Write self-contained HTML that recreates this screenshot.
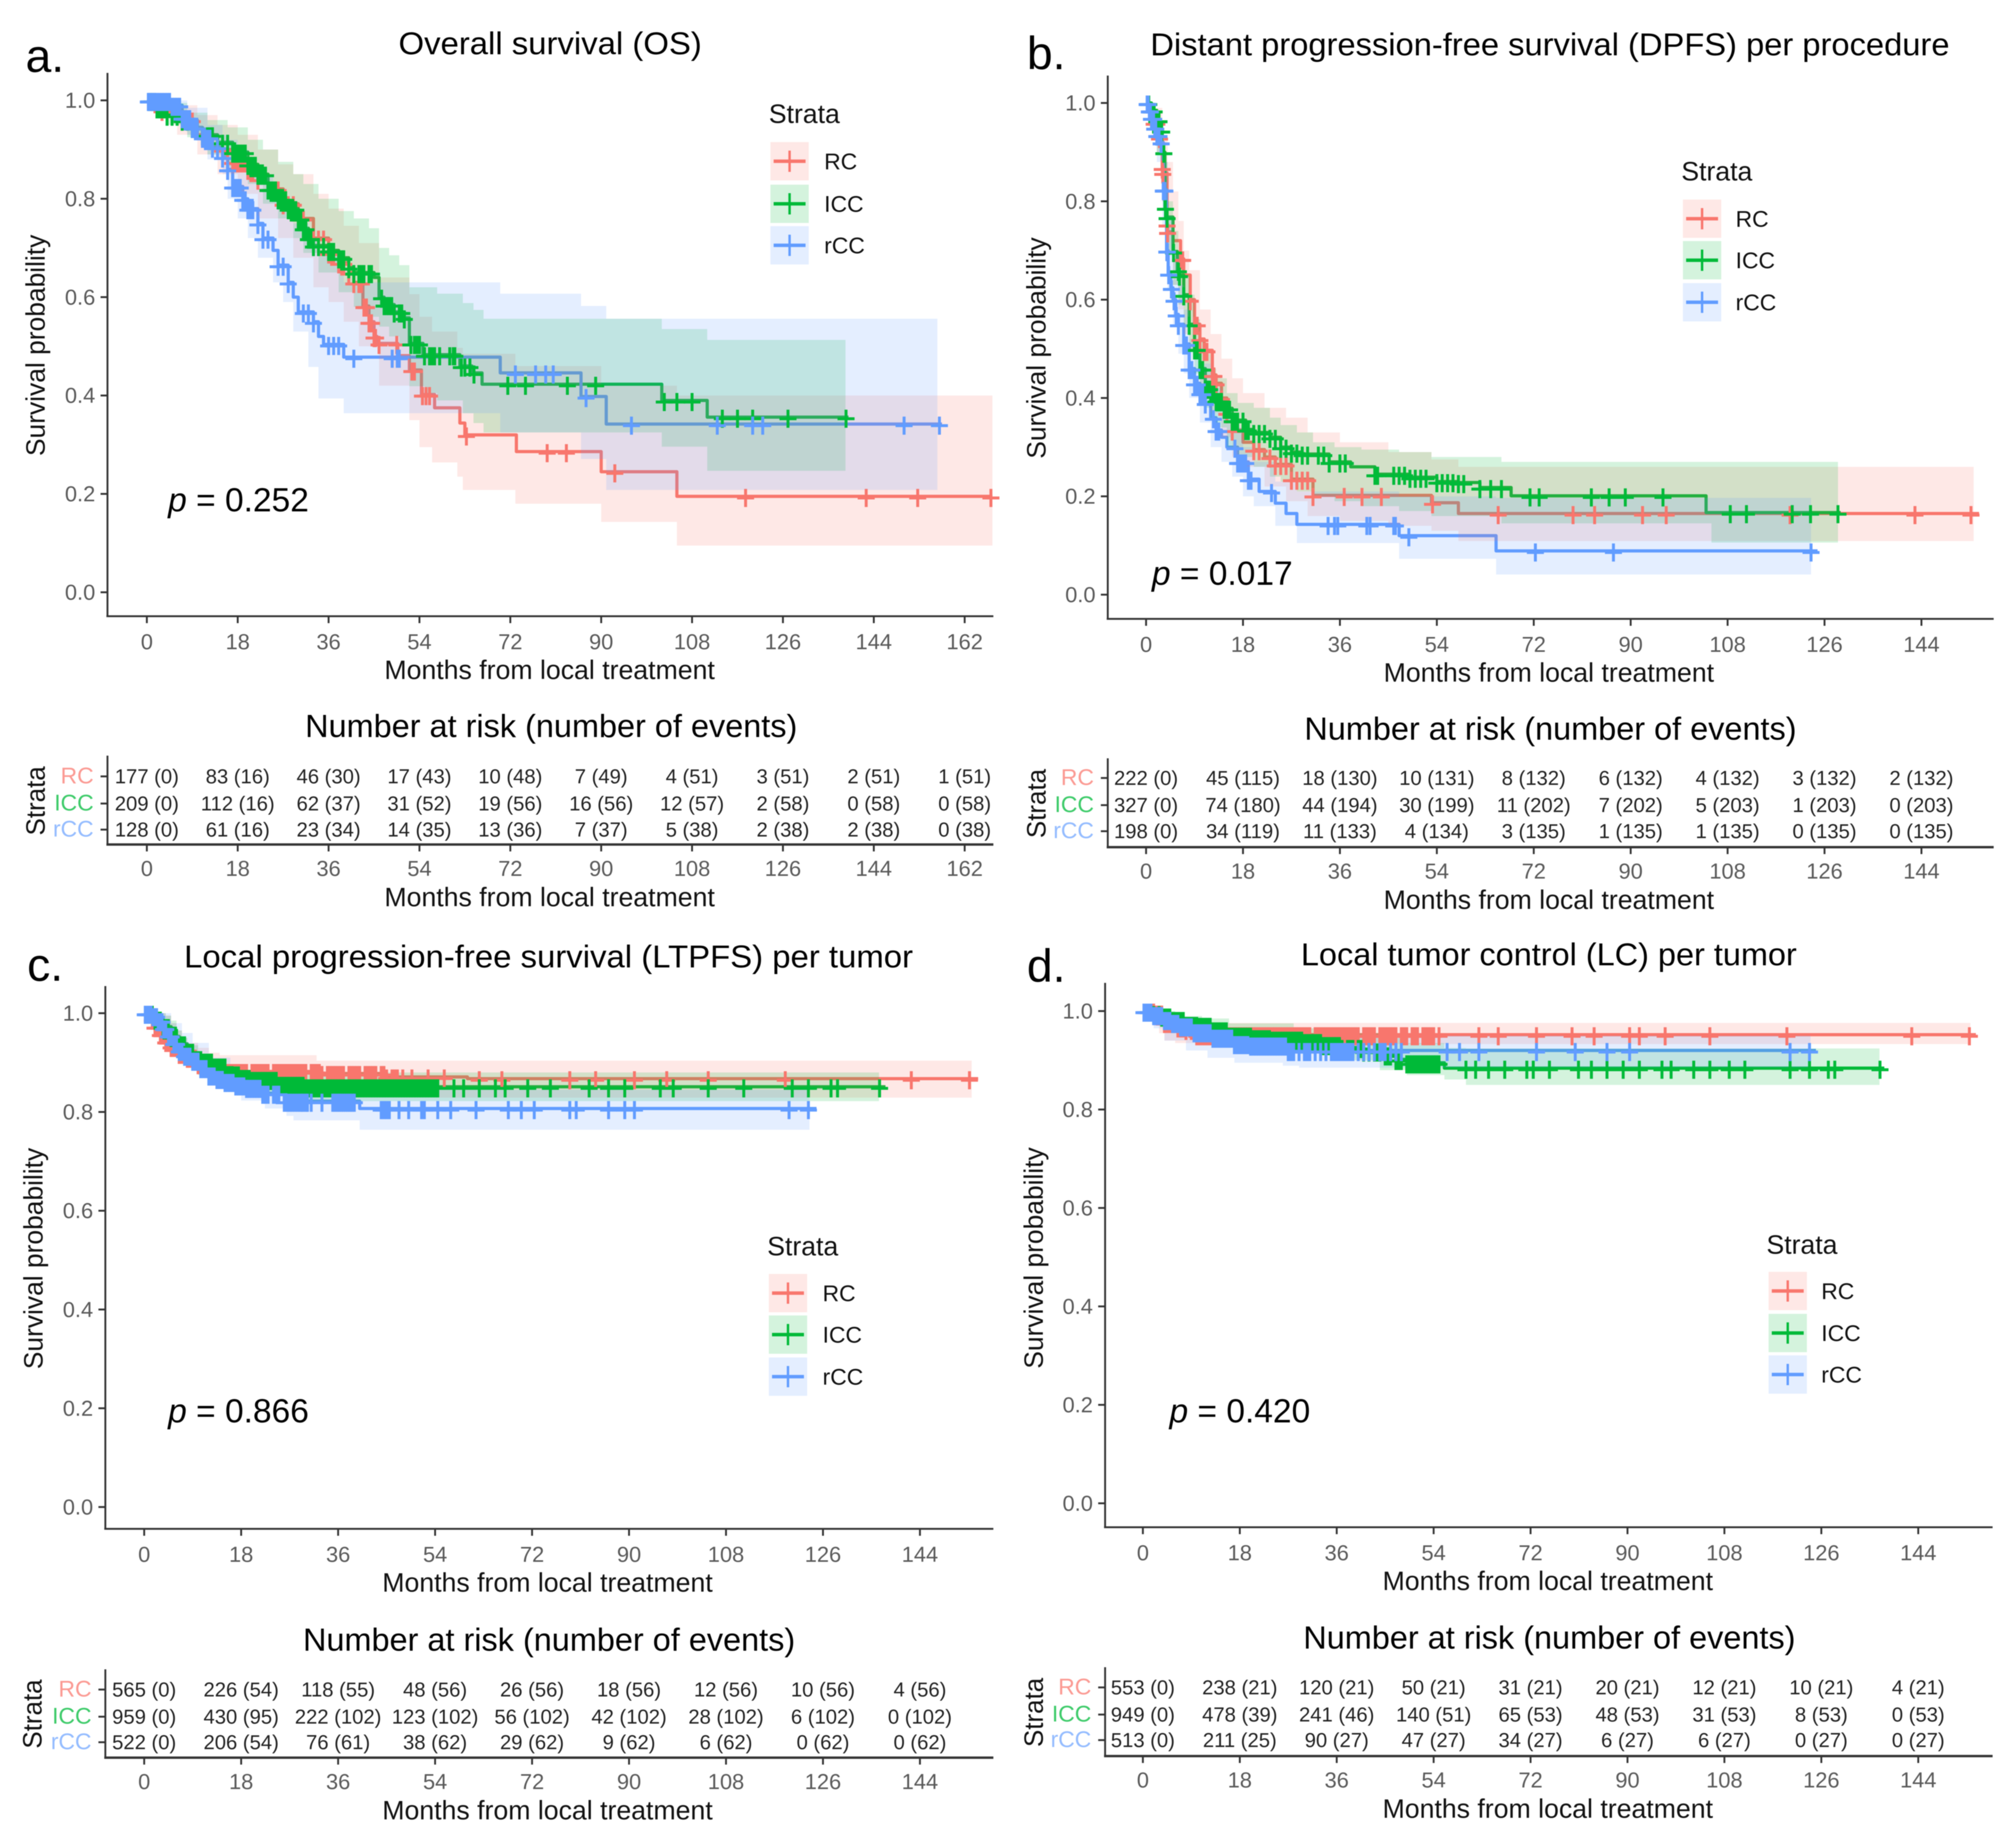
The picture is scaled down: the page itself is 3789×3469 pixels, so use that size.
<!DOCTYPE html>
<html lang="en">
<head>
<meta charset="utf-8">
<title>Survival curves by strata</title>
<style>
html,body{margin:0;padding:0;background:#fff;}
svg{display:block;filter:blur(0.9px);}
text{font-family:"Liberation Sans",sans-serif;}
</style>
</head>
<body>
<svg id="figure" xmlns="http://www.w3.org/2000/svg" width="3789" height="3469" viewBox="0 0 3789 3469">
<rect x="0" y="0" width="3789" height="3469" fill="#ffffff"></rect>
</svg>
<script>
// ---------- Panel a: Overall survival ----------
var a_RC_t=[0,3,6,10,14,17,20,22,24,27,30,33,36,38,40,41,42.8,44,45,45.6,49.7,52,54.4,57,62,63,73.2,90,105,167.5];
var a_RC_s=[1,.98,.96,.93,.9,.875,.86,.84,.82,.79,.76,.72,.69,.67,.65,.63,.582,.55,.52,.506,.481,.452,.402,.375,.344,.32,.286,.245,.195,.195];
var a_RC_c=[1,3,5,7,9,11,13,15,16,17,17.5,18,18.5,19,19.5,20,20.5,21,22,24,25,26,27,28,29,30,31,33,34,35,36,36.5,37,38,38.5,39,40,41,42,42.5,43,43.5,44,44.5,45,45.3,46,49.5,52.5,53,54.6,55.3,56,63.3,79.3,83.1,92.7,118.6,142.5,152.7,167.2];
var a_RC_bt=[0,6,10,14,18,22,26,29,33,36,39,42,46,52,54,56.5,61.5,62.6,73,90,105,167.5];
var a_RC_u=[1,.99,.97,.95,.93,.9,.87,.85,.81,.78,.745,.71,.64,.606,.56,.53,.497,.485,.46,.42,.4,.4];
var a_RC_l=[1,.93,.89,.85,.81,.76,.72,.68,.62,.59,.55,.5,.42,.35,.295,.264,.235,.208,.18,.143,.095,.095];

var a_ICC_t=[0,2,4,7,9,11,14,17,20,22,24,26,28,30,31,32,33,36,38,40,41,45,46,47,49,51,52,54.7,62,64.4,66.4,102,111,139];
var a_ICC_s=[1,.985,.97,.96,.945,.93,.915,.895,.87,.85,.82,.8,.78,.76,.74,.72,.705,.695,.68,.66,.65,.64,.6,.585,.57,.558,.506,.483,.46,.446,.423,.39,.356,.356];
var a_ICC_c=[.5,1,1.5,2,2.5,3,3.5,4,5,6,7,8,9,10,11,12,12.5,13,14,15,16,17,17.5,18,18.5,19,19.5,20,20.5,21,21.5,22,22.5,23,23.5,24,24.5,25,25.5,26,26.5,27,27.5,28,28.5,29,29.5,30,30.5,31,31.5,32,32.5,33,34,35,36,36.5,37,38,38.5,39,40,41,42,42.5,43,44,44.5,46.5,47,47.5,48,48.5,49,50,50.5,51,52.3,53,53.5,54,55,56,56.5,57,58,60,60.7,61,62.3,63,64,64.8,71.5,75,83.3,88.9,102.5,105,108,114,117,120,127,138.5];
var a_ICC_bt=[0,4,8,12,16,20,23,26,29,31,34,38,41,44,46,48,50,52,55,57.5,62.6,64.7,66.7,102,111,138.4];
var a_ICC_u=[1,.995,.975,.96,.945,.92,.9,.875,.85,.83,.8,.775,.76,.74,.7,.685,.665,.62,.62,.607,.588,.574,.556,.535,.513,.513];
var a_ICC_l=[1,.95,.925,.89,.865,.83,.79,.76,.72,.69,.65,.61,.58,.56,.54,.52,.5,.419,.405,.39,.364,.344,.325,.296,.247,.247];

var a_rCC_t=[0,5,7,9,11,13,15,16,17,19,20,22,23,25,26,28,29,30,33,34,35,39,70,86,91,157.5];
var a_rCC_s=[1,.99,.965,.945,.925,.905,.885,.86,.825,.8,.78,.75,.72,.695,.665,.63,.6,.57,.55,.52,.504,.478,.446,.398,.342,.342];
var a_rCC_c=[.3,.6,1,1.3,1.6,2,2.5,3,3.5,4,4.5,5,5.5,6,6.5,7,7.5,8,8.5,9,9.5,10,11,11.5,12,12.5,13,14,15,16,17,17.5,18,18.5,19,19.5,20,20.5,21,22,23,24,26,27,28,31,32,33,36,37,38,41,48.6,49.6,50,73,77,79,80.5,87,96,113,120,122,150,157];
var a_rCC_bt=[0,5,8,12,15,16,18,20,22,25,27,29,32,34,39,70,86,91,156.6];
var a_rCC_u=[1,1,.985,.95,.93,.92,.9,.87,.845,.81,.78,.75,.72,.69,.63,.607,.582,.556,.556];
var a_rCC_l=[1,.975,.93,.88,.85,.8,.76,.72,.68,.63,.59,.53,.458,.394,.364,.325,.271,.208,.208];

// ---------- Panel b: Distant progression-free survival ----------
var b_RC_t=[0,.8,1.5,2.4,3,3.1,3.9,4,5,6.4,7,8.2,9,10,10.8,12.3,13,14,15,16,18,20,22,24,27,31,53,58,154.7];
var b_RC_s=[1,.985,.96,.93,.868,.858,.753,.738,.72,.683,.65,.6,.55,.52,.497,.447,.43,.4,.37,.335,.31,.295,.28,.265,.235,.202,.187,.165,.165];
var b_RC_c=[1,1.5,2,2.5,3,3.1,3.9,4,6.4,6.6,6.8,8.2,9,9.5,10,10.8,11,11.3,12.3,12.6,13,14,15,16,20,21,23,24,25,26,27,28,29,30,31,36.8,40.1,43.7,53.2,65.4,79.3,83.3,92.2,96.6,119.6,142.8,153.2];
var b_RC_bt=[0,2,3,4,5,6,7,8,10,12,14,16,18,22,26,30,36,45,53,58,153.7];
var b_RC_u=[1,.99,.93,.88,.82,.76,.7,.66,.58,.53,.48,.44,.41,.38,.36,.33,.31,.29,.275,.26,.26];
var b_RC_l=[1,.9,.8,.7,.63,.58,.53,.5,.41,.37,.32,.28,.26,.22,.19,.16,.15,.14,.13,.109,.109];

var b_ICC_t=[0,1,2,2.7,3,3.5,3.8,5,5.8,6.2,7,8,9,10,11,12,13,14.5,16,18.5,20,23,25,27,29,34,38,42.5,49,54,58,62,67.8,104,129];
var b_ICC_s=[1,.985,.965,.944,.9,.787,.768,.698,.66,.65,.61,.55,.5,.46,.42,.41,.395,.379,.355,.336,.33,.32,.3,.29,.286,.27,.26,.245,.239,.23,.228,.218,.201,.167,.167];
var b_ICC_c=[.5,1,1.5,2,2.4,2.7,2.8,2.9,3.3,3.6,3.9,5.1,6,6.2,7,8,9,9.5,10,10.5,11,11.2,11.4,11.6,11.8,12,12.3,12.6,13,13.3,13.6,14,14.5,15,15.5,16,16.5,17,18,18.5,19,20,21,22,23,24,25,26,27,28,29,30,32,33,34,36,37,42.5,43,46,47,48,49,50,51,52,54,55,56,57,58,59,62,64,66,71.3,73,82.7,86,89,96,108.5,111.5,120,123.4,128.5];
var b_ICC_bt=[0,2,3,4,5,6,7,8,9,10,11,12,13,15,17,20,23,25,28,31,35,40,47,53,66,105,128.5];
var b_ICC_u=[1,.97,.88,.8,.74,.69,.65,.61,.56,.52,.49,.46,.44,.41,.39,.38,.36,.345,.33,.31,.3,.295,.29,.28,.27,.27,.27];
var b_ICC_l=[1,.9,.8,.69,.63,.59,.55,.5,.45,.41,.38,.36,.34,.3,.28,.26,.24,.23,.21,.2,.19,.18,.17,.16,.145,.106,.106];

var b_rCC_t=[0,.5,1,1.5,2,2.6,3.2,3.8,4.1,4.6,5,5.5,6,7,8,9,10,11,12,13,14,15,17,19,21,24,26,28,47,65,124.7];
var b_rCC_s=[1,.985,.97,.95,.935,.92,.824,.7,.653,.624,.6,.57,.55,.51,.46,.43,.41,.39,.36,.335,.32,.3,.27,.235,.21,.186,.165,.143,.12,.089,.089];
var b_rCC_c=[.2,.4,.6,.8,1,1.2,1.4,1.6,1.8,2,2.2,2.4,2.8,3.2,3.3,3.4,3.5,3.85,3.95,4.2,4.7,5.2,5.6,6,7,7.5,8,8.5,9,9.5,10,10.5,11,12.5,13,13.5,16.5,17,17.3,17.7,18,18.5,19,19.5,23.3,33.8,35,35.6,41,41.6,46,46.3,48.8,72.3,86.8,123.5];
var b_rCC_bt=[0,2,3,4,5,6,7,8,10,12,14,16,18,20,24,28,47,65,123.5];
var b_rCC_u=[1,.96,.88,.77,.69,.63,.58,.52,.47,.42,.38,.34,.3,.27,.23,.21,.2,.197,.197];
var b_rCC_l=[1,.88,.75,.62,.55,.49,.45,.4,.35,.3,.27,.24,.2,.18,.14,.105,.073,.041,.041];

// ---------- Panel c: Local progression-free survival ----------
var c_RC_t=[0,1.5,2,3,4,5,6.5,8,10,13,15,33,45,60,154.8];
var c_RC_s=[1,.988,.973,.958,.943,.933,.919,.911,.898,.888,.882,.878,.871,.8675,.8675];
var c_RC_c=[1,1.5,2,2.5,3,3.5,4,4.5,5,5.5,6,6.5,7,7.5,8,8.5,9,9.5,10,11,12,13,14,15,15.5,16,16.5,17,17.5,18,18.5,19,20,20.5,21,21.5,22,22.5,23,24,24.5,25,25.5,26,26.5,27,27.5,28,28.5,29,29.5,30,31,31.5,32,32.5,33,34,34.5,35,35.5,36,36.5,37,38,38.5,39,39.5,40,41,41.5,42,42.5,43,44,44.5,45,46,46.5,47,48,49.7,52.7,55.7,62.2,66.4,79,83.8,91,97,104.7,119,142.4,153.2];
var c_RC_bt=[0,3,4,5,6,7,8,10,12,14,32,38,153.6];
var c_RC_u=[1,1,.995,.98,.965,.95,.94,.93,.92,.915,.904,.904,.904];
var c_RC_l=[1,.99,.97,.945,.925,.905,.89,.88,.86,.85,.84,.829,.829];

var c_ICC_t=[0,2,3.5,5,6.5,8,9.5,11,13,15.5,18,20,25,30,137.6];
var c_ICC_s=[1,.988,.973,.953,.938,.923,.908,.903,.893,.877,.87,.866,.856,.851,.851];
var c_ICC_c=[1,1.5,2,2.5,3,3.5,4,4.5,5,5.5,6,6.5,7,7.5,8,8.5,9,9.5,10,10.5,11,11.5,12,12.5,13,13.5,14,14.5,15,15.5,16,16.5,17,17.5,18,18.5,19,19.5,20,20.5,21,21.5,22,22.5,23,23.5,24,24.5,25,25.5,26,26.5,27,27.5,28,28.5,29,29.5,30,30.5,31,31.5,32,32.5,33,33.5,34,34.5,35,35.5,36,36.5,37,37.5,38,38.5,39,39.5,40,40.5,41,41.5,42,42.5,43,43.5,44,44.5,45,45.5,46,46.5,47,47.5,48,48.5,49,49.5,50,50.5,51,51.5,52,52.5,53,53.5,54,54.5,57.5,59.3,62.2,65.2,67,71.2,75.4,82.6,86.2,89.2,95.8,98.2,104.7,111.3,120.3,123.3,127.5,128.7,136.5];
var c_ICC_bt=[0,3,4,5,6,7,8,10,12,15,18,22,27,136.4];
var c_ICC_u=[1,1,.995,.985,.965,.95,.935,.915,.905,.895,.885,.88,.88,.88];
var c_ICC_l=[1,.985,.975,.955,.935,.915,.895,.875,.87,.855,.845,.835,.822,.822];

var c_rCC_t=[0,1.5,2.5,3.5,4.5,5.5,6.5,7.5,9,10.5,12,13.5,15,17,19,22,26,40,124.8];
var c_rCC_s=[1,.995,.985,.97,.955,.94,.925,.915,.905,.89,.875,.868,.862,.855,.85,.838,.822,.807,.807];
var c_rCC_c=[.2,.5,1,1.3,1.6,2,2.3,2.6,3,3.3,3.6,4,4.5,5,5.5,6,6.5,7,7.5,8,8.5,9,9.5,10,10.5,11,11.5,12,12.5,13,13.5,14,14.5,15,15.5,16,16.5,17,17.5,18,18.5,19,19.5,20,20.5,21,21.5,22,22.5,23,24,24.5,25,26,26.5,27,27.5,28,28.5,29,29.3,29.6,30,30.3,31,33,35,35.4,35.8,36.2,36.6,37,37.4,37.8,38.2,38.6,39,44,44.5,45,45.5,47.3,49.1,51.5,52,54.5,56.9,61.6,67.6,70,72.4,79,80.2,86.2,89.2,91,119.7,123.3];
var c_rCC_bt=[0,3,5,7,9,12,16,18,22.4,26.4,27.7,40,123.5];
var c_rCC_u=[1,1,.98,.96,.94,.91,.89,.87,.86,.855,.85,.845,.845];
var c_rCC_l=[1,.97,.95,.925,.9,.87,.845,.823,.807,.792,.783,.764,.764];

// ---------- Panel d: Local tumor control ----------
var d_RC_t=[0,2.2,3.8,6.3,7.8,10,154.7];
var d_RC_s=[1,.996,.977,.968,.963,.952,.952];
var d_RC_c=[1,2,2.5,3,3.5,4,4.5,5,5.5,6,6.5,7,7.5,8,9,10,10.5,11,11.5,12,12.5,13,13.5,14,14.5,15,15.5,16,16.5,17,17.5,18,18.5,19,19.5,20,20.5,21,21.5,22,22.5,23,23.5,24,24.5,25,25.5,26,26.5,27,27.5,28,28.5,29,29.5,30,30.5,31,32,32.5,33,33.5,34,34.5,35,35.5,36,36.5,37,37.5,38,38.5,39,39.5,40,41,41.5,42,42.5,43,44,44.5,45,45.5,46,46.5,47,48,48.5,49,50,50.5,51,52,52.5,53,53.5,54,55,62.4,66,73.1,79.7,83.8,90.4,92.2,97,105.3,119.6,142.8,153.5];
var d_RC_bt=[0,2,3,4,6,11,153.7];
var d_RC_u=[1,1,.995,.985,.977,.976,.976];
var d_RC_l=[1,.97,.955,.94,.935,.933,.933];

var d_ICC_t=[0,2,3.5,5.2,7.8,10.4,13,15.7,20.3,23.6,30,33.4,37,41,44.5,47,49,56,137.7];
var d_ICC_s=[1,.995,.99,.983,.973,.971,.962,.951,.946,.943,.938,.932,.926,.919,.911,.902,.895,.884,.884];
var d_ICC_c=[1,2,3,3.5,4,4.5,5,5.5,6,6.5,7,7.5,8,8.5,9,9.5,10,10.5,11,11.5,12,12.5,13,13.5,14,14.5,15,15.5,16,16.5,17,17.5,18,18.5,19,19.5,20,20.5,21,21.5,22,22.5,23,23.5,24,24.5,25,25.5,26,26.5,27,27.5,28,28.5,29,29.5,30,30.5,31,31.5,32,32.5,33,33.5,34,34.5,35,35.5,36,36.5,37,38,38.5,39,40,40.5,41,42,43,43.5,44,45,45.5,46,47,47.5,48,49,49.5,50,50.5,51,51.5,52,52.5,53,53.5,54,54.5,55,60,61.8,64.2,67.2,71.3,72.5,75.5,80.9,83.3,86.2,89.2,92.2,96.4,98.1,102.3,105.3,108.9,111.8,120.2,123.8,127.3,128.5,136.9];
var d_ICC_bt=[0,3,6,11,16,28,37,44,49,56,60,136.8];
var d_ICC_u=[1,1,.99,.985,.975,.965,.955,.945,.935,.925,.924,.924];
var d_ICC_l=[1,.97,.96,.955,.94,.925,.9,.88,.87,.861,.85,.85];

var d_rCC_t=[0,2,3.8,5.4,7,9.5,13,17,20,27,125];
var d_rCC_s=[1,.993,.983,.977,.97,.958,.947,.934,.931,.92,.92];
var d_rCC_c=[.2,.5,1,1.5,2,2.5,3,3.5,4,4.5,5,5.5,6,6.5,7,7.5,8,8.5,9,9.5,10,10.5,11,11.5,12,12.5,13,13.5,14,14.5,15,15.5,16,16.5,17,17.5,18,18.5,19,19.5,20,20.5,21,21.5,22,22.5,23,23.5,24,24.5,25,25.5,26,26.5,27,27.5,28,29,30,30.5,31,32,33,34,35,35.5,36,36.5,37,37.5,38,38.5,39,40,41,42,43,44,44.5,45,46,47,48,56.5,58.8,62.4,73.1,80.3,86.2,90.4,120.2,123.8];
var d_rCC_bt=[0,2,4,8,12,17,26,29,124];
var d_rCC_u=[1,1,.985,.965,.955,.95,.95,.95,.95];
var d_rCC_l=[1,.965,.94,.92,.905,.895,.889,.885,.885];

// ---------- Risk table values ----------
var a_risk_RC=["177 (0)","83 (16)","46 (30)","17 (43)","10 (48)","7 (49)","4 (51)","3 (51)","2 (51)","1 (51)"];
var a_risk_ICC=["209 (0)","112 (16)","62 (37)","31 (52)","19 (56)","16 (56)","12 (57)","2 (58)","0 (58)","0 (58)"];
var a_risk_rCC=["128 (0)","61 (16)","23 (34)","14 (35)","13 (36)","7 (37)","5 (38)","2 (38)","2 (38)","0 (38)"];
var b_risk_RC=["222 (0)","45 (115)","18 (130)","10 (131)","8 (132)","6 (132)","4 (132)","3 (132)","2 (132)"];
var b_risk_ICC=["327 (0)","74 (180)","44 (194)","30 (199)","11 (202)","7 (202)","5 (203)","1 (203)","0 (203)"];
var b_risk_rCC=["198 (0)","34 (119)","11 (133)","4 (134)","3 (135)","1 (135)","1 (135)","0 (135)","0 (135)"];
var c_risk_RC=["565 (0)","226 (54)","118 (55)","48 (56)","26 (56)","18 (56)","12 (56)","10 (56)","4 (56)"];
var c_risk_ICC=["959 (0)","430 (95)","222 (102)","123 (102)","56 (102)","42 (102)","28 (102)","6 (102)","0 (102)"];
var c_risk_rCC=["522 (0)","206 (54)","76 (61)","38 (62)","29 (62)","9 (62)","6 (62)","0 (62)","0 (62)"];
var d_risk_RC=["553 (0)","238 (21)","120 (21)","50 (21)","31 (21)","20 (21)","12 (21)","10 (21)","4 (21)"];
var d_risk_ICC=["949 (0)","478 (39)","241 (46)","140 (51)","65 (53)","48 (53)","31 (53)","8 (53)","0 (53)"];
var d_risk_rCC=["513 (0)","211 (25)","90 (27)","47 (27)","34 (27)","6 (27)","6 (27)","0 (27)","0 (27)"];

var xTicks9=[0,18,36,54,72,90,108,126,144];
var xTicks10=[0,18,36,54,72,90,108,126,144,162];
var yTicks=[0,.2,.4,.6,.8,1];
var strataNames=["RC","ICC","rCC"];
var strataColors=["#F8766D","#00BA38","#619CFF"];
var riskLabelColors=["#fb9a93","#3ecb6a","#94bcff"];

var svg=document.getElementById('figure');
var NS='http://www.w3.org/2000/svg';

function mk(tag,attrs,parent,name,inter){
  var el=document.createElementNS(NS,tag);
  for(var k in attrs){el.setAttribute(k,attrs[k]);}
  
  
  parent.appendChild(el);
  return el;
}
function txt(parent,name,str,x,y,size,fill,anchor,width,extra){
  var at={x:x,y:y,'font-size':size,fill:fill,'text-anchor':anchor||'start'};
  if(width){at.textLength=width;at.lengthAdjust='spacingAndGlyphs';}
  if(extra){for(var k in extra){at[k]=extra[k];}}
  var t=mk('text',at,parent,name,false);
  t.textContent=str;
  return t;
}
function stepPts(t,v,X,Y){
  var p=[];
  for(var i=0;i<t.length;i++){
    if(i>0){p.push([X(t[i]),Y(v[i-1])]);}
    p.push([X(t[i]),Y(v[i])]);
  }
  return p;
}
function toPath(p){
  return p.map(function(q,i){return (i?'L':'M')+q[0].toFixed(1)+' '+q[1].toFixed(1);}).join(' ');
}
function stepAt(t,s,m){
  var r=s[0];
  for(var i=0;i<t.length;i++){if(t[i]<=m){r=s[i];}}
  return r;
}

function drawPanel(P){
  var g=mk('g',{},svg,'panel-'+P.id,false);
  var X=function(m){return P.x0+m*P.k;};
  var Y=function(s){return P.y0-s*(P.y0-P.y1);};

  // series lines first, bands over them, censors on top
  var lines=mk('g',{},g,'survival-curves',false);
  var bands=mk('g',{},g,'confidence-bands',false);
  var marks=mk('g',{},g,'censor-marks',false);
  P.series.forEach(function(S,i){
    var color=strataColors[i], nm=strataNames[i].toLowerCase();
    mk('path',{d:toPath(stepPts(S.t,S.s,X,Y)),fill:'none',stroke:color,'stroke-width':6,'stroke-linejoin':'round'},lines,'curve-'+nm,false);
  });
  P.series.forEach(function(S,i){
    var color=strataColors[i], nm=strataNames[i].toLowerCase();
    var up=stepPts(S.bt,S.u,X,Y), lo=stepPts(S.bt,S.l,X,Y).reverse();
    mk('path',{d:toPath(up.concat(lo))+' Z',fill:color,'fill-opacity':0.17,stroke:'none'},bands,'band-'+nm,false);
  });
  P.series.forEach(function(S,i){
    var color=strataColors[i], nm=strataNames[i].toLowerCase();
    S.c.forEach(function(m){
      var x=X(m), y=Y(stepAt(S.t,S.s,m))+3;
      mk('path',{d:'M'+(x-16).toFixed(1)+' '+y.toFixed(1)+' H'+(x+16).toFixed(1)+' M'+x.toFixed(1)+' '+(y-17).toFixed(1)+' V'+(y+17).toFixed(1),fill:'none',stroke:color,'stroke-width':5.5},marks,'censor-mark-'+nm,false);
    });
  });

  // main axes
  var axis=mk('g',{},g,'main-axes',false);
  mk('line',{x1:P.left,x2:P.left,y1:P.top,y2:P.bottom,stroke:'#333','stroke-width':3.5},axis,'y-axis-line',false);
  mk('line',{x1:P.left-2,x2:P.right,y1:P.bottom,y2:P.bottom,stroke:'#333','stroke-width':3.5},axis,'x-axis-line',false);
  yTicks.forEach(function(v){
    var y=Y(v);
    mk('line',{x1:P.left-13,x2:P.left,y1:y,y2:y,stroke:'#333','stroke-width':3.5},axis,'y-tick',false);
    txt(axis,'y-tick-label',v.toFixed(1),P.left-23,y+14,41,'#5a5a5a','end');
  });
  P.ticks.forEach(function(m){
    var x=X(m);
    mk('line',{x1:x,x2:x,y1:P.bottom,y2:P.bottom+13,stroke:'#333','stroke-width':3.5},axis,'x-tick',false);
    txt(axis,'x-tick-label',String(m),x,P.bottom+62,41,'#5a5a5a','middle');
  });
  txt(axis,'x-axis-title','Months from local treatment',P.xc-3,P.bottom+118,50,'#111','middle',621);
  txt(axis,'y-axis-title','Survival probability',0,0,50,'#111','middle',416,{transform:'translate('+P.yTitleX+' '+P.yTitleY+') rotate(-90)'});

  // titles, panel letter, p value
  txt(g,'chart-title',P.title,P.titleX,P.titleY,59,'#000','middle',P.titleW);
  txt(g,'panel-letter',P.id+'.',P.letterX,P.letterY,87,'#000','start');
  var pv=txt(g,'p-value','',P.pX,P.pY,63,'#000','start');
  var it=document.createElementNS(NS,'tspan');
  it.setAttribute('font-style','italic');
  
  
  it.textContent='p';
  pv.appendChild(it);
  var rest=document.createElementNS(NS,'tspan');
  
  
  rest.textContent=' = '+P.p;
  pv.appendChild(rest);

  // legend
  var leg=mk('g',{},g,'legend',false);
  txt(leg,'legend-title','Strata',P.legX,P.legY,50,'#111','start');
  P.legKeys.forEach(function(cy,i){
    var e=mk('g',{},leg,'legend-entry-'+strataNames[i].toLowerCase(),false);
    var cx=P.legCx;
    mk('rect',{x:cx-36,y:cy-36,width:72,height:72,fill:strataColors[i],'fill-opacity':0.17},e,'legend-band-swatch',false);
    mk('path',{d:'M'+(cx-30)+' '+cy+' H'+(cx+30),stroke:strataColors[i],'stroke-width':6.5,fill:'none'},e,'legend-line-swatch',false);
    mk('path',{d:'M'+cx+' '+(cy-20)+' V'+(cy+20),stroke:strataColors[i],'stroke-width':4.5,fill:'none'},e,'legend-censor-swatch',false);
    txt(e,'legend-label',strataNames[i],P.legTx,cy+15,43,'#111','start');
  });

  // risk table
  var T=P.table;
  var rg=mk('g',{},g,'risk-table',false);
  txt(rg,'risk-table-title','Number at risk (number of events)',P.xc,T.titleY,60,'#000','middle',925);
  mk('line',{x1:P.left,x2:P.left,y1:T.top,y2:T.bottom,stroke:'#333','stroke-width':3.5},rg,'risk-y-axis-line',false);
  mk('line',{x1:P.left-2,x2:P.right,y1:T.bottom,y2:T.bottom,stroke:'#333','stroke-width':4.5},rg,'risk-x-axis-line',false);
  T.rows.forEach(function(vals,i){
    var by=T.rowY[i];
    mk('line',{x1:P.left-13,x2:P.left,y1:by-13,y2:by-13,stroke:'#333','stroke-width':3.5},rg,'risk-y-tick',false);
    txt(rg,'risk-row-label',strataNames[i],P.left-26,by,43,riskLabelColors[i],'end');
    vals.forEach(function(v,j){
      txt(rg,'risk-cell',v,X(P.ticks[j]),by,38,'#222','middle');
    });
  });
  P.ticks.forEach(function(m){
    var x=X(m);
    mk('line',{x1:x,x2:x,y1:T.bottom,y2:T.bottom+13,stroke:'#333','stroke-width':3.5},rg,'risk-x-tick',false);
    txt(rg,'risk-x-tick-label',String(m),x,T.bottom+59,41,'#5a5a5a','middle');
  });
  txt(rg,'risk-x-axis-title','Months from local treatment',P.xc-3,T.bottom+116,50,'#111','middle',621);
  txt(rg,'risk-y-axis-title','Strata',0,0,50,'#111','middle',130,{transform:'translate('+T.strataX+' '+T.strataY+') rotate(-90)'});
}

drawPanel({id:'a',title:'Overall survival (OS)',p:'0.252',ticks:xTicks10,
  x0:276,k:9.488,y1:188.6,y0:1113,left:202,right:1867,top:137,bottom:1158,xc:1036,
  yTitleX:84,yTitleY:649,titleX:1034,titleY:102,titleW:570,letterX:48,letterY:135,pX:316,pY:961,
  legX:1445,legY:231,legKeys:[303,383,461],legCx:1484,legTx:1549,
  series:[{t:a_RC_t,s:a_RC_s,c:a_RC_c,bt:a_RC_bt,u:a_RC_u,l:a_RC_l},{t:a_ICC_t,s:a_ICC_s,c:a_ICC_c,bt:a_ICC_bt,u:a_ICC_u,l:a_ICC_l},{t:a_rCC_t,s:a_rCC_s,c:a_rCC_c,bt:a_rCC_bt,u:a_rCC_u,l:a_rCC_l}],
  table:{titleY:1385,top:1420,bottom:1587,rowY:[1472,1523,1572],rows:[a_risk_RC,a_risk_ICC,a_risk_rCC],strataX:84,strataY:1505}});

drawPanel({id:'b',title:'Distant progression-free survival (DPFS) per procedure',p:'0.017',ticks:xTicks9,
  x0:2154,k:10.12,y1:193.5,y0:1117.5,left:2082,right:3747,top:142,bottom:1163,xc:2914,
  yTitleX:1965,yTitleY:654,titleX:2913,titleY:104,titleW:1502,letterX:1930,letterY:130,pX:2165,pY:1099,
  legX:3160,legY:339,legKeys:[411,489,568],legCx:3199,legTx:3262,
  series:[{t:b_RC_t,s:b_RC_s,c:b_RC_c,bt:b_RC_bt,u:b_RC_u,l:b_RC_l},{t:b_ICC_t,s:b_ICC_s,c:b_ICC_c,bt:b_ICC_bt,u:b_ICC_u,l:b_ICC_l},{t:b_rCC_t,s:b_rCC_s,c:b_rCC_c,bt:b_rCC_bt,u:b_rCC_u,l:b_rCC_l}],
  table:{titleY:1390,top:1425,bottom:1592,rowY:[1475,1526,1575],rows:[b_risk_RC,b_risk_ICC,b_risk_rCC],strataX:1965,strataY:1510}});

drawPanel({id:'c',title:'Local progression-free survival (LTPFS) per tumor',p:'0.866',ticks:xTicks9,
  x0:271,k:10.125,y1:1904,y0:2832,left:198,right:1867,top:1853,bottom:2873,xc:1032,
  yTitleX:80,yTitleY:2365,titleX:1031,titleY:1818,titleW:1370,letterX:51,letterY:1843,pX:316,pY:2673,
  legX:1442,legY:2359,legKeys:[2430,2508,2587],legCx:1481,legTx:1546,
  series:[{t:c_RC_t,s:c_RC_s,c:c_RC_c,bt:c_RC_bt,u:c_RC_u,l:c_RC_l},{t:c_ICC_t,s:c_ICC_s,c:c_ICC_c,bt:c_ICC_bt,u:c_ICC_u,l:c_ICC_l},{t:c_rCC_t,s:c_rCC_s,c:c_rCC_c,bt:c_rCC_bt,u:c_rCC_u,l:c_rCC_l}],
  table:{titleY:3102,top:3137,bottom:3303,rowY:[3188,3239,3287],rows:[c_risk_RC,c_risk_ICC,c_risk_rCC],strataX:78,strataY:3221}});

drawPanel({id:'d',title:'Local tumor control (LC) per tumor',p:'0.420',ticks:xTicks9,
  x0:2148,k:10.12,y1:1900,y0:2825,left:2077,right:3745,top:1847,bottom:2870,xc:2912,
  yTitleX:1960,yTitleY:2364,titleX:2911,titleY:1814,titleW:932,letterX:1930,letterY:1845,pX:2198,pY:2673,
  legX:3320,legY:2356,legKeys:[2426,2505,2583],legCx:3360,legTx:3423,
  series:[{t:d_RC_t,s:d_RC_s,c:d_RC_c,bt:d_RC_bt,u:d_RC_u,l:d_RC_l},{t:d_ICC_t,s:d_ICC_s,c:d_ICC_c,bt:d_ICC_bt,u:d_ICC_u,l:d_ICC_l},{t:d_rCC_t,s:d_rCC_s,c:d_rCC_c,bt:d_rCC_bt,u:d_rCC_u,l:d_rCC_l}],
  table:{titleY:3098,top:3133,bottom:3300,rowY:[3184,3235,3283],rows:[d_risk_RC,d_risk_ICC,d_risk_rCC],strataX:1960,strataY:3218}});
</script>
</body>
</html>
